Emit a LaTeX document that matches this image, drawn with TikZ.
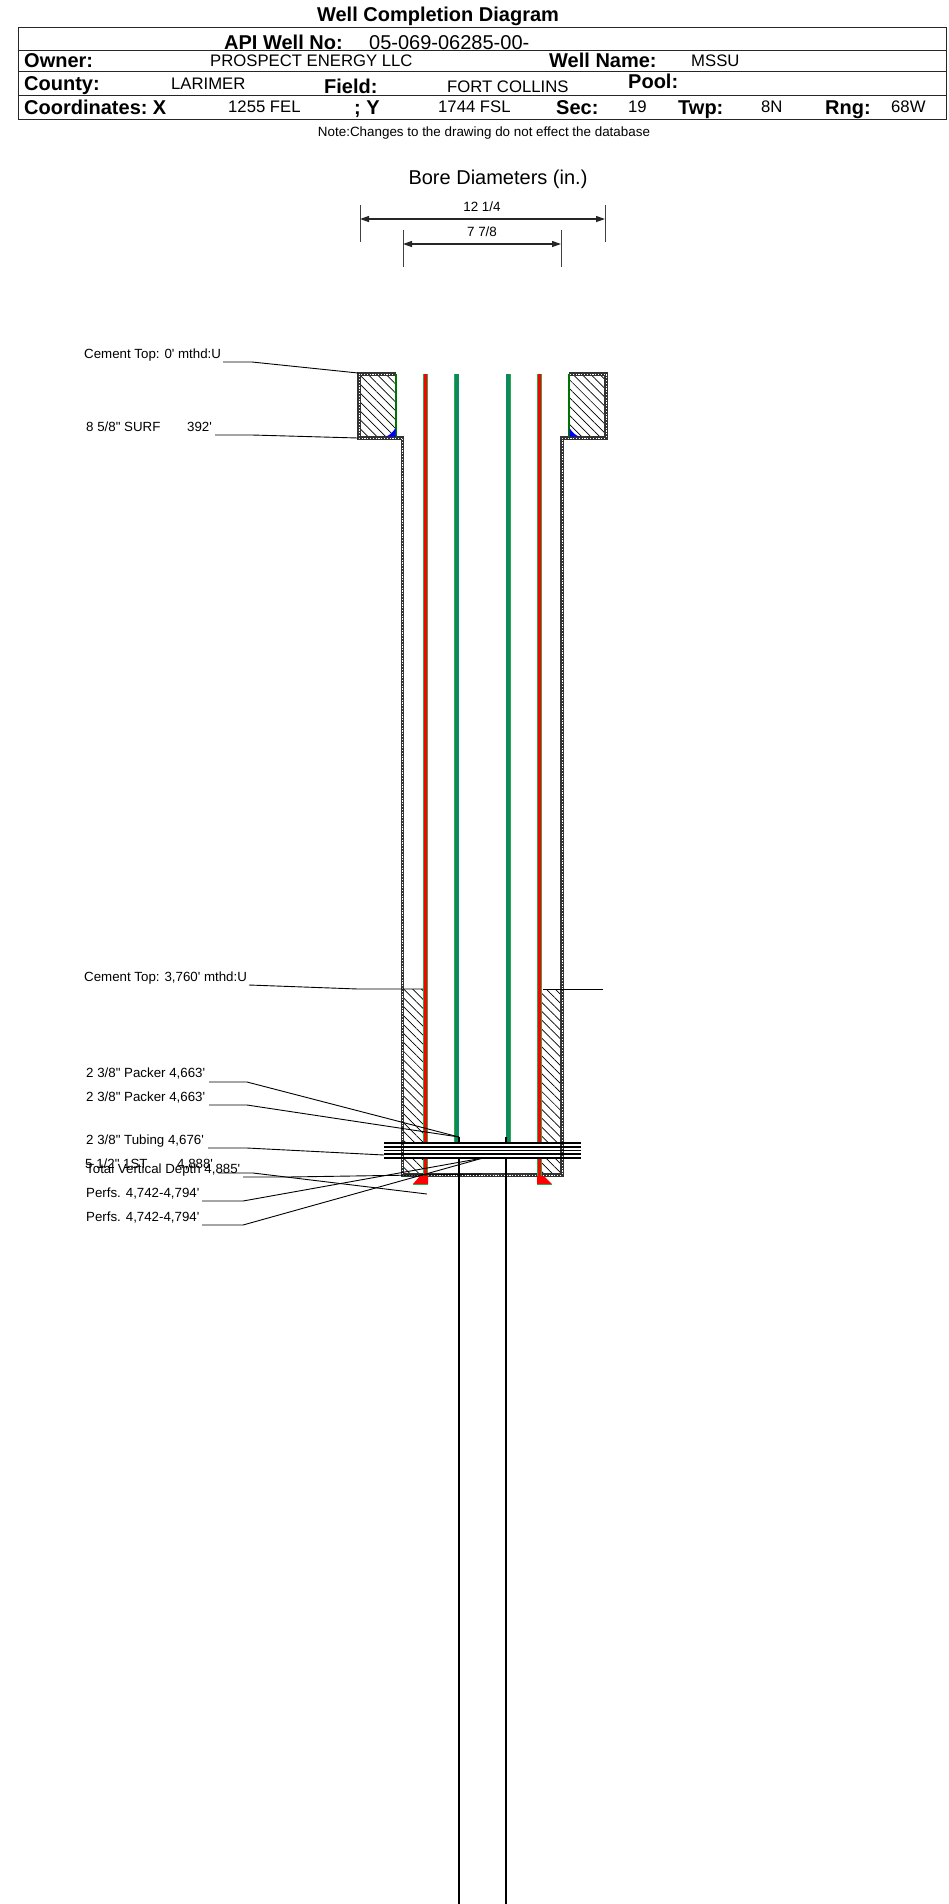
\documentclass[tikz,border=0pt]{standalone}
\usepackage{fontspec}
\defaultfontfeatures[\rmfamily]{}
\setmainfont{Liberation Sans}
\usetikzlibrary{arrows.meta,patterns.meta}
\definecolor{tealstr}{HTML}{0B8A5E}
\definecolor{greenedge}{HTML}{2FA84A}
\begin{document}
\begin{tikzpicture}[x=1pt, y=-1pt, inner sep=0pt,
  hdr/.style={font=\fontsize{20}{20}\selectfont\bfseries, anchor=base west},
  val/.style={font=\fontsize{16.7}{17}\selectfont, anchor=base west},
  lab/.style={font=\fontsize{13.3}{13}\selectfont, anchor=base west},
  small/.style={font=\fontsize{13.4}{13}\selectfont},
  leader/.style={draw=black, line width=0.9pt},
  wall/.style={draw=black!80, line width=3.3pt, line cap=square, line join=miter,
    postaction={draw=white, line width=0.9pt, line cap=butt, dash pattern=on 1.2pt off 1.6pt}},
  hatch/.style={pattern={Lines[angle=-45,distance=6.3pt,line width=0.7pt]}},
  redstr/.style={draw=greenedge, line width=0.8pt, double=red, double distance=3.8pt},
  tealstrg/.style={draw=greenedge, line width=0.7pt, double=tealstr, double distance=3.8pt},
  tube/.style={draw=black, line width=1.6pt},
  dim/.style={draw=black!85, line width=1.2pt, {Triangle[length=9pt,width=6pt]}-{Triangle[length=9pt,width=6pt]}},
  tick/.style={draw=black!75, line width=0.8pt},
  pband/.style={draw=black, line width=1.7pt}]
\useasboundingbox (0,0) rectangle (948,1904);

% header
\node[font=\fontsize{20}{20}\selectfont\bfseries] (title) at (438,16) {Well Completion Diagram};
\draw[line width=1pt, black!85] (18,27) rectangle (946,119);
\draw[line width=1pt, black!85] (18,50.5) -- (946,50.5);
\draw[line width=1pt, black!85] (18,71.5) -- (946,71.5);
\draw[line width=1pt, black!85] (18,95) -- (946,95);

\node[hdr] (api) at (224,49) {API Well No:};
\node[hdr, font=\fontsize{20}{20}\selectfont] (apino) at (369,49) {05-069-06285-00-};
\node[hdr] (owner) at (24,67) {Owner:};
\node[val] (ownerv) at (210,66) {PROSPECT ENERGY LLC};
\node[hdr] (wname) at (549,67) {Well Name:};
\node[val] (wnamev) at (691,66) {MSSU};
\node[hdr] (county) at (24,90) {County:};
\node[val] (countyv) at (171,89) {LARIMER};
\node[hdr] (field) at (324,93) {Field:};
\node[val] (fieldv) at (447,92) {FORT COLLINS};
\node[hdr] (pool) at (628,88) {Pool:};
\node[hdr] (coord) at (24,114) {Coordinates:\kern-2pt{} X};
\node[val] (xv) at (228,112) {1255 FEL};
\node[hdr] (ylab) at (354,114) {; Y};
\node[val] (yv) at (438,112) {1744 FSL};
\node[hdr] (sec) at (556,114) {Sec:};
\node[val] (secv) at (628,112) {19};
\node[hdr] (twp) at (678,114) {Twp:};
\node[val] (twpv) at (761,112) {8N};
\node[hdr] (rng) at (825,114) {Rng:};
\node[val] (rngv) at (891,112) {68W};
\node[small] (note) at (484,133) {Note:Changes to the drawing do not effect the database};

% bore diameters
\node[font=\fontsize{20}{20}\selectfont] (bore) at (498,179) {Bore Diameters (in.)};
\node[small] (d1) at (482,207) {12 1/4};
\node[small] (d2) at (482,232) {7 7/8};
\coordinate (a1) at (360,219);
\coordinate (a2) at (605,219);
\coordinate (b1) at (403,244);
\coordinate (b2) at (561,244);
\draw[tick] (360,205) -- (360,242);
\draw[tick] (605,205) -- (605,242);
\draw[tick] (403,230) -- (403,267);
\draw[tick] (561,230) -- (561,267);
\draw[dim] (a1) -- (a2);
\draw[dim] (b1) -- (b2);

% cement
\path[hatch] (359,374) rectangle (396,438);
\path[hatch] (569,374) rectangle (606,438);
\path[hatch] (403,989) rectangle (423,1143);
\path[hatch] (542,989) rectangle (561,1143);
\path[hatch] (403,1158) rectangle (423,1175);
\path[hatch] (542,1158) rectangle (561,1175);

% casing
\draw[wall] (396,374) -- (359,374) -- (359,438) -- (402.5,438) -- (402.5,1175) -- (562,1175) -- (562,438) -- (606,438) -- (606,374) -- (569,374);
\draw[draw=green!45!black, line width=1.6pt] (396,374) -- (396,437);
\draw[draw=green!45!black, line width=1.6pt] (569,374) -- (569,437);
\fill[blue] (386,436.5) .. controls (390,435) and (393,432) .. (395.5,428) -- (395.5,436.5) -- cycle;
\fill[blue] (579,436.5) .. controls (575,435) and (572,432) .. (569.5,428) -- (569.5,436.5) -- cycle;

% strings
\draw[redstr] (425.5,374) -- (425.5,1143);
\draw[redstr] (539.5,374) -- (539.5,1143);
\draw[redstr] (425.5,1158) -- (425.5,1176);
\draw[redstr] (539.5,1158) -- (539.5,1176);
\draw[tealstrg] (456.7,374) -- (456.7,1142);
\draw[tealstrg] (508.3,374) -- (508.3,1142);
\fill[red] (420,1176) -- (428,1176) -- (428,1184) -- (413,1184) -- cycle;
\fill[red] (537,1176) -- (544,1176) -- (552,1184) -- (537,1184) -- cycle;
\draw[greenedge, line width=0.8pt] (413,1184) -- (428,1184);
\draw[greenedge, line width=0.8pt] (537,1184) -- (552,1184);

% tubing
\draw[tube] (459,1137) -- (459,1143);
\draw[tube] (506,1137) -- (506,1143);
\draw[tube] (459,1158) -- (459,1904);
\draw[tube] (506,1158) -- (506,1904);

% packer band
\foreach \yy in {1143,1146.7,1150.4,1154.1,1157.8}
  \draw[pband] (384,\yy) -- (581,\yy);

% labels and leaders
\node[lab] (ct0) at (84,358) {Cement Top: 0' mthd:U};
\coordinate (ct0a) at (223,362);
\coordinate (ct0b) at (252,362);
\coordinate (ct0c) at (358,373);
\draw[leader] (ct0a) -- (ct0b) -- (ct0c);

\node[lab] (surf) at (86,431) {8 5/8" SURF};
\node[lab] (surfd) at (187,431) {392'};
\coordinate (surfa) at (215,435);
\coordinate (surfb) at (252,435);
\coordinate (surfc) at (358,438);
\draw[leader] (surfa) -- (surfb) -- (surfc);

\node[lab] (ct1) at (84,981) {Cement Top: 3,760' mthd:U};
\coordinate (ct1a) at (249,985);
\coordinate (ct1b) at (358,989);
\coordinate (ct1c) at (423,989);
\coordinate (ct1d) at (603,989);
\coordinate (ct1e) at (543,989);
\draw[leader] (ct1a) -- (ct1b) -- (ct1c);
\draw[leader] (ct1e) -- (ct1d);

\node[lab] (pk1) at (86,1077) {2 3/8" Packer 4,663'};
\coordinate (pk1a) at (209,1082);
\coordinate (pk1b) at (247,1082);
\coordinate (pkend) at (459,1137);
\draw[leader] (pk1a) -- (pk1b) -- (pkend);

\node[lab] (pk2) at (86,1101) {2 3/8" Packer 4,663'};
\coordinate (pk2a) at (209,1105);
\coordinate (pk2b) at (247,1105);
\draw[leader] (pk2a) -- (pk2b) -- (pkend);

\node[lab] (tb) at (86,1144) {2 3/8" Tubing 4,676'};
\coordinate (tba) at (208,1148);
\coordinate (tbb) at (247,1148);
\coordinate (tbc) at (384,1155);
\draw[leader] (tba) -- (tbb) -- (tbc);

\node[lab] (lst) at (85,1168) {5 1/2" 1ST};
\node[lab] (lstd) at (177,1168) {4,888'};
\coordinate (lsta) at (218,1173);
\coordinate (lstb) at (253,1173);
\coordinate (lstc) at (427,1194);
\draw[leader] (lsta) -- (lstb) -- (lstc);

\node[lab] (tvd) at (86,1173) {Total Vertical Depth 4,885'};
\coordinate (tvda) at (243,1177);
\coordinate (tvdb) at (287,1177);
\coordinate (tvdc) at (482,1174);
\draw[leader] (tvda) -- (tvdb) -- (tvdc);

\node[lab] (pf1) at (86,1197) {Perfs. 4,742-4,794'};
\coordinate (pf1a) at (202,1201);
\coordinate (pf1b) at (243,1201);
\coordinate (pfend) at (483,1158);
\draw[leader] (pf1a) -- (pf1b) -- (pfend);

\node[lab] (pf2) at (86,1221) {Perfs. 4,742-4,794'};
\coordinate (pf2a) at (202,1225);
\coordinate (pf2b) at (243,1225);
\draw[leader] (pf2a) -- (pf2b) -- (pfend);
\end{tikzpicture}
\end{document}
